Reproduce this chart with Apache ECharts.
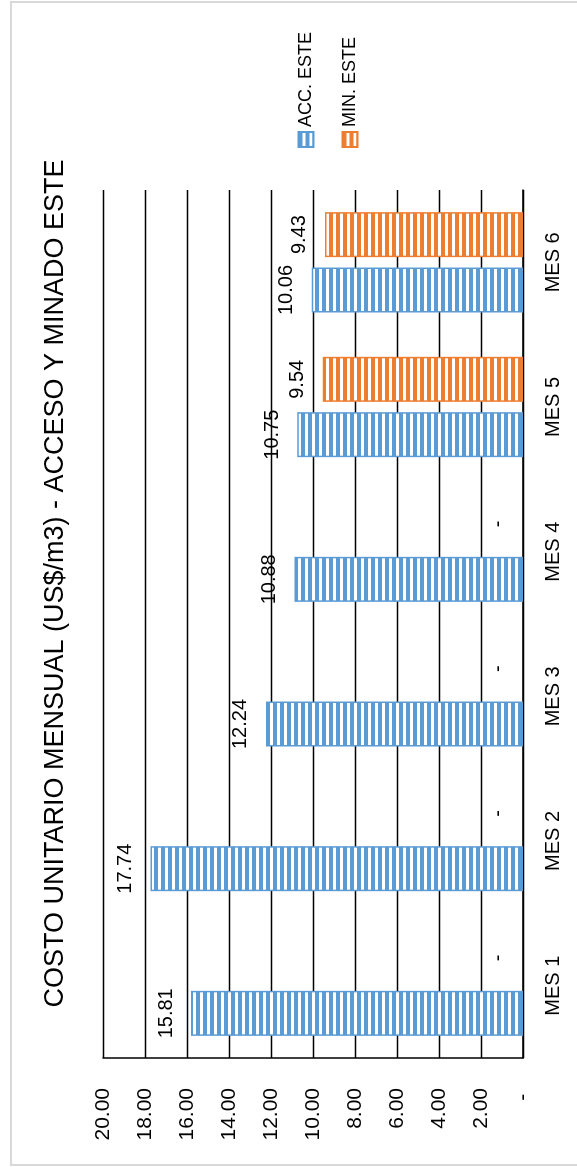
<!DOCTYPE html>
<html>
<head>
<meta charset="utf-8">
<title>Costo unitario mensual - Acceso y minado este</title>
<script src="https://cdn.jsdelivr.net/npm/echarts@6/dist/echarts.min.js"></script>
<style>
body{
margin:0;
background:#fff;
overflow:hidden;
}
#wrap{
width:577px;
height:1167px;
position:relative;
overflow:hidden;
}
/* the chart is drawn landscape and turned a quarter turn, like the original */
#chart{
position:absolute;
left:0;
top:0;
width:1167px;
height:577px;
transform-origin:0 0;
transform:translate(0,1167px) rotate(-90deg);
}
</style>
</head>
<body>

<div id="wrap"><div id="chart"></div></div>

<script>

const categories=["MES 1","MES 2","MES 3","MES 4","MES 5","MES 6"]
const accEste=[15.81,17.74,12.24,10.88,10.75,10.06]
const minEste=[0,0,0,0,9.54,9.43]
const seriesNames=["ACC. ESTE","MIN. ESTE"]
const yMin=0
const yMax=20
const yStep=2

const font="Liberation Sans, Arial, sans-serif"

function stripes(color){
  const c=document.createElement("canvas")
  c.width=4
  c.height=7
  const ctx=c.getContext("2d")
  ctx.fillStyle="#fff"
  ctx.fillRect(0,0,4,7)
  ctx.fillStyle=color
  ctx.fillRect(0,0,4,4)
  return {image:c,repeat:"repeat"}
}

function fmt(v){
  return v===0 ? "-" : v.toFixed(2)
}

function bar(name,data,color){
  return {
    name:name,
    type:"bar",
    // zero bars keep their "-" label but draw no outline
    data:data.map(v=>v===0 ? {value:v,itemStyle:{borderWidth:0}} : v),
    barWidth:45,
    barGap:"23%",
    itemStyle:{
      color:stripes(color),
      borderColor:color,
      borderWidth:1.5
    },
    label:{
      show:true,
      position:"top",
      distance:15,
      fontSize:20,
      fontFamily:font,
      color:"#000",
      formatter:p=>fmt(p.value)
    }
  }
}

const chart=echarts.init(document.getElementById("chart"))

chart.setOption({
  animation:false,
  textStyle:{fontFamily:font},
  graphic:[{
    type:"rect",
    shape:{x:2,y:11,width:1163,height:620},
    style:{fill:"none",stroke:"#d9d9d9",lineWidth:2},
    silent:true
  }],
  title:{
    text:"COSTO UNITARIO MENSUAL (US$/m3) - ACCESO Y MINADO ESTE",
    left:"center",
    top:37,
    textStyle:{fontSize:27,fontWeight:"normal",color:"#000",fontFamily:font}
  },
  legend:{
    data:seriesNames,
    orient:"vertical",
    left:1019,
    top:297,
    padding:0,
    itemWidth:15,
    itemHeight:15,
    itemGap:26,
    icon:"rect",
    textStyle:{fontSize:18,color:"#000",fontFamily:font}
  },
  grid:{left:109,right:190,top:103,bottom:54},
  xAxis:{
    type:"category",
    data:categories,
    axisLine:{lineStyle:{color:"#000",width:1.5}},
    axisTick:{show:false},
    axisLabel:{margin:20,fontSize:20,color:"#000",fontFamily:font}
  },
  yAxis:{
    type:"value",
    min:yMin,
    max:yMax,
    interval:yStep,
    axisLine:{show:true,lineStyle:{color:"#000",width:1.5}},
    axisTick:{show:false},
    splitLine:{lineStyle:{color:"#000",width:1.3}},
    axisLabel:{
      margin:30,
      fontSize:21,
      color:"#000",
      fontFamily:font,
      formatter:v=>v===0 ? "- " : v.toFixed(2)
    }
  },
  series:[
    bar(seriesNames[0],accEste,"#5b9bd5"),
    bar(seriesNames[1],minEste,"#ed7d31")
  ]
})

</script>

</body>
</html>
